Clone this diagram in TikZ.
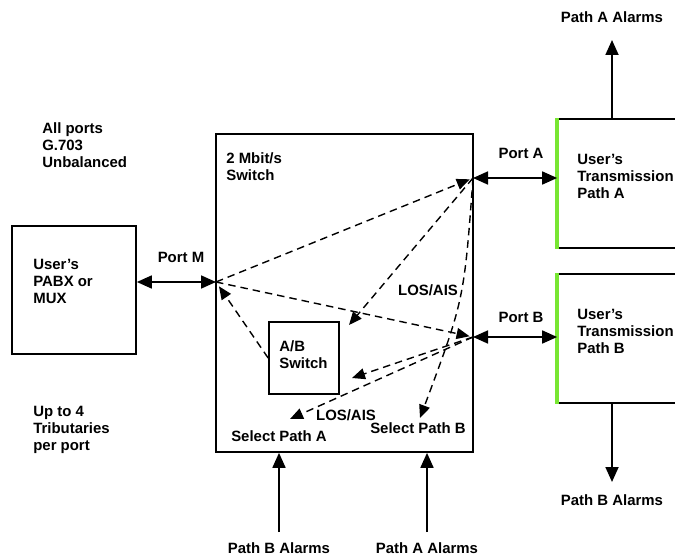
\documentclass[tikz,border=0pt]{standalone}
\usepackage{fontspec}
\setmainfont{Liberation Sans}
\usetikzlibrary{arrows.meta}

\definecolor{edgegreen}{RGB}{120,230,50}

\begin{document}
\begin{tikzpicture}[x=0.02cm,y=-0.02cm,
    font=\fontsize{8.5}{9.7}\selectfont\bfseries,
    box/.style={draw,line width=1pt,inner sep=0pt},
    txt/.style={align=left,inner sep=0pt,anchor=north west},
    lbl/.style={inner sep=0pt},
    link/.style={line width=1pt,{Triangle[length=0.3cm,width=0.26cm]}-{Triangle[length=0.3cm,width=0.26cm]}},
    alarm/.style={line width=1pt,-{Triangle[length=0.3cm,width=0.26cm]}},
    sig/.style={line width=0.8pt,dash pattern=on 0.15cm off 0.1cm,-{Triangle[length=0.26cm,width=0.22cm]}}]
  \clip (0,0) rectangle (675,560);

  % boxes
  \node[box,minimum width=2.48cm,minimum height=2.56cm] (pabx) at (74,290) {};
  \node[txt] (pabxtxt) at (33,259) {User's\\PABX or\\MUX};
  \node[box,minimum width=5.14cm,minimum height=6.36cm] (sw) at (344.5,293) {};
  \node[txt] (swtxt) at (226,152) {2 Mbit/s\\Switch};
  \node[box,minimum width=1.4cm,minimum height=1.44cm] (ab) at (304,358) {};
  \node[txt] (abtxt) at (279,340) {A/B\\Switch};

  \foreach \p/\y in {A/183.5,B/338.5}{
    \node[box,minimum width=2.84cm,minimum height=2.58cm] (trans\p) at (629,\y) {};
    \draw[edgegreen,line width=2pt] (trans\p.north west) -- (trans\p.south west);
    \node[txt] (trans\p txt) at (577,\y-30) {User's\\Transmission\\Path \p};
  }

  % notes
  \node[txt] (allports) at (42,122) {All ports\\G.703\\Unbalanced};
  \node[txt] (upto) at (33,406) {Up to 4\\Tributaries\\per port};

  % ports
  \coordinate (pm) at (216,282);
  \coordinate (pa) at (473,178);
  \coordinate (pb) at (473,337);
  \draw[link] (pabx.east |- pm) -- (pm);
  \draw[link] (pa) -- (transA.west |- pa);
  \draw[link] (pb) -- (transB.west |- pb);
  \node[lbl] (portm) at (181,257) {Port M};
  \node[lbl] (porta) at (521,153) {Port A};
  \node[lbl] (portb) at (521,317) {Port B};

  % alarms
  \coordinate (tipa) at (612,40);
  \coordinate (tipb) at (612,482);
  \draw[alarm] (transA.north -| tipa) -- (tipa);
  \draw[alarm] (transB.south -| tipb) -- (tipb);
  \node[lbl] (alarmsa) at (612,17) {Path A Alarms};
  \node[lbl] (alarmsb) at (612,500) {Path B Alarms};
  \foreach \x/\p in {279/B,427/A}{
    \coordinate (tail\p) at (\x,532);
    \draw[alarm] (tail\p) -- (sw.south -| tail\p);
    \node[lbl] (in\p) at (\x,548) {Path \p\ Alarms};
  }

  % switching signals
  \coordinate (abne) at (349,325);
  \coordinate (abe) at (352,378);
  \coordinate (sela) at (290,419);
  \coordinate (selb) at (420,418);
  \node[lbl] (losa) at (428,290) {LOS/AIS};
  \node[lbl] (losb) at (346,415) {LOS/AIS};
  \node[lbl] (selA) at (279,436) {Select Path A};
  \node[lbl] (selB) at (418,428) {Select Path B};

  \draw[sig,shorten >=2pt] (pm) -- (pa);
  \draw[sig,shorten >=2pt] (pm) -- (pb);
  \draw[sig] (pa) -- (abne);
  \draw[sig] (pa) .. controls (464,300) .. (selb);
  \draw[sig,shorten >=3pt] (ab.west) -- (pm);
  \draw[sig] (pb) -- (abe);
  \draw[sig] (pb) -- (sela);
\end{tikzpicture}
\end{document}
